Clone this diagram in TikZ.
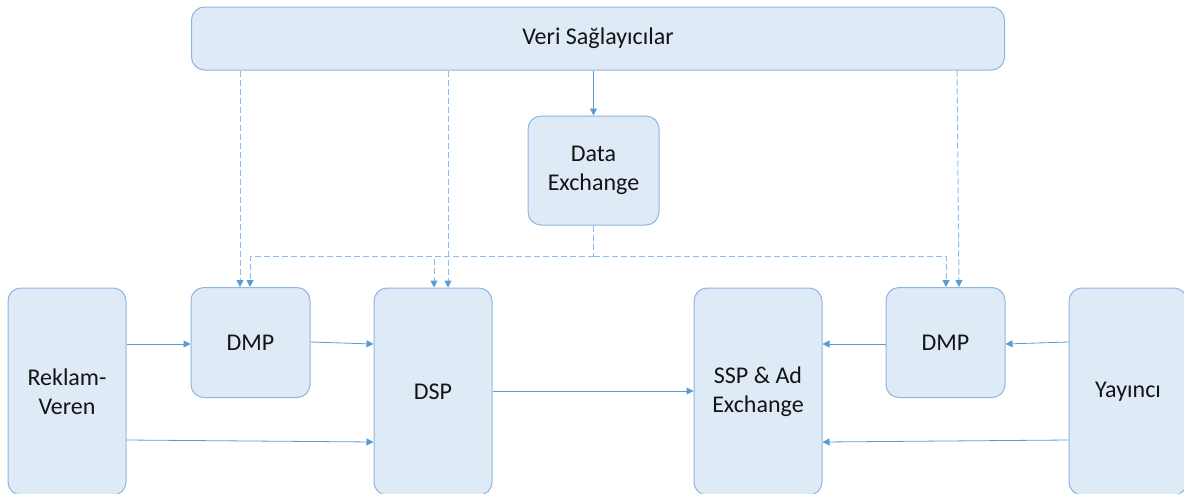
\documentclass[tikz,border=0pt]{standalone}
\usepackage{fontspec}
\setmainfont{Carlito}
\usetikzlibrary{arrows.meta}
\definecolor{boxfill}{HTML}{DEEBF7}
\definecolor{boxline}{HTML}{8DB6E2}
\definecolor{arrline}{HTML}{5B9BD5}
\definecolor{dashline}{HTML}{8FBCE8}
\tikzset{
  box/.style={draw=boxline, fill=boxfill, line width=1pt, rounded corners=13pt,
    align=center, font=\fontsize{24}{28.5}\selectfont, text=black!92, inner sep=0pt},
  tip/.style={-{Triangle[length=7pt,width=7pt]}},
  flow/.style={draw=arrline, line width=0.8pt, tip},
  feed/.style={draw=dashline, line width=1pt, dash pattern=on 6pt off 3pt},
  feedarrow/.style={feed, -{Triangle[length=7pt,width=7pt,color=arrline,fill=arrline]}},
}
\begin{document}
\begin{tikzpicture}[x=1pt,y=-1pt]
\useasboundingbox (0,0) rectangle (1184,493);
% nodes
\node[box, minimum width=813pt, minimum height=63pt] (veri) at (598,38.5) {Veri Sağlayıcılar};
\node[box, minimum width=131pt, minimum height=109pt] (dex) at (593.5,170.5) {Data\\Exchange};
\node[box, minimum width=118pt, minimum height=207pt] (rek) at (67,391.5) {Reklam-\\Veren};
\node[box, minimum width=119pt, minimum height=110pt] (dmpa) at (250.5,342.5) {DMP};
\node[box, minimum width=118pt, minimum height=207pt] (dsp) at (433,391.5) {DSP};
\node[box, minimum width=128pt, minimum height=207pt] (ssp) at (758,391.5) {SSP \& Ad\\Exchange};
\node[box, minimum width=119pt, minimum height=110pt] (dmpb) at (945.5,342.5) {DMP};
\node[box, minimum width=118pt, minimum height=207pt] (yay) at (1128,391.5) {Yayıncı};
% solid flows
\draw[flow] (veri.south -| dex.north) -- (dex.north);
\draw[flow] (rek.east |- 0,344) -- (dmpa.west |- 0,344);
\draw[flow] (dmpa.east |- 0,342) -- (dsp.west |- 0,344);
\draw[flow] (rek.east |- 0,440) -- (dsp.west |- 0,442);
\draw[flow] (dsp.east |- 0,391) -- (ssp.west |- 0,391);
\draw[flow] (dmpb.west |- 0,344) -- (ssp.east |- 0,344);
\draw[flow] (yay.west |- 0,342) -- (dmpb.east |- 0,344);
\draw[flow] (yay.west |- 0,440) -- (ssp.east |- 0,442);
% dashed feeds from the data providers
\draw[feedarrow] (veri.south -| 240,0) -- (dmpa.north -| 240,0);
\draw[feedarrow] (veri.south -| 448,0) -- (dsp.north -| 448,0);
\draw[feedarrow] (veri.south -| 957,0) -- (dmpb.north -| 959,0);
% dashed feeds from the data exchange
\coordinate (bus) at (dex.south |- 0,256);
\draw[feed] (dex.south) -- (bus);
\draw[feedarrow] (bus) -| (dmpa.north -| 250,0);
\draw[feedarrow] (bus) -| (dsp.north -| 434,0);
\draw[feedarrow] (bus) -| (dmpb.north -| 946,0);
\end{tikzpicture}
\end{document}
